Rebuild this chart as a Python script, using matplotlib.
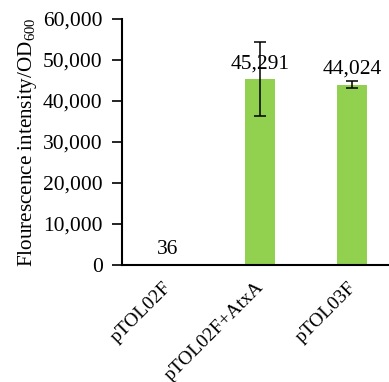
import matplotlib
matplotlib.use("Agg")
import matplotlib.pyplot as plt
from matplotlib.transforms import ScaledTranslation

# fluorescence per OD600 for each construct
strains = ["pTOL02F", "pTOL02F+AtxA", "pTOL03F"]
means = [36, 45291, 44024]
errors = [0, 9000, 900]
value_labels = ["36", "45,291", "44,024"]

plt.rcParams["font.family"] = ["Liberation Serif", "DejaVu Serif"]
plt.rcParams["mathtext.fontset"] = "custom"
plt.rcParams["mathtext.rm"] = "Liberation Serif"

fig = plt.figure(figsize=(3.89, 3.82), dpi=100)
ax = fig.add_axes([122 / 389, 1 - 265 / 382, 267 / 389, 246 / 382])

x = range(len(strains))
ax.bar(x, means, width=0.33, color="#92D050", zorder=2)
for xi, m, e in zip(x, means, errors):
    if e > 0:
        ax.errorbar(xi, m, yerr=e, fmt="none", ecolor="black",
                    elinewidth=1.1, capsize=4.5, capthick=1.1, zorder=3)

for xi, m, lab in zip(x, means, value_labels):
    ax.text(xi, m + 1400, lab, ha="center", va="bottom", fontsize=15.5)

ax.set_ylim(0, 60000)
ax.set_xlim(-0.5, 267 / 92 - 0.5)
ax.set_yticks(range(0, 60001, 10000))
ax.set_yticklabels([f"{v:,}" for v in range(0, 60001, 10000)], fontsize=15.5)
ax.set_xticks(list(x))
ax.set_xticklabels(strains, rotation=45, ha="right", va="top",
                   rotation_mode="anchor", fontsize=14)
ax.tick_params(axis="x", length=0, pad=10)
ax.tick_params(axis="y", length=7, width=1.2, direction="out", pad=7)
shift = ScaledTranslation(-5 / 100, 0, fig.dpi_scale_trans)
for lab in ax.get_xticklabels():
    lab.set_transform(lab.get_transform() + shift)

ax.spines["top"].set_visible(False)
ax.spines["right"].set_visible(False)
ax.spines["left"].set_linewidth(1.5)
ax.spines["bottom"].set_linewidth(1.5)

ax.set_ylabel("Flourescence intensity/OD$_{600}$", fontsize=15.2, labelpad=3)

fig.savefig("out.png", dpi=100)
